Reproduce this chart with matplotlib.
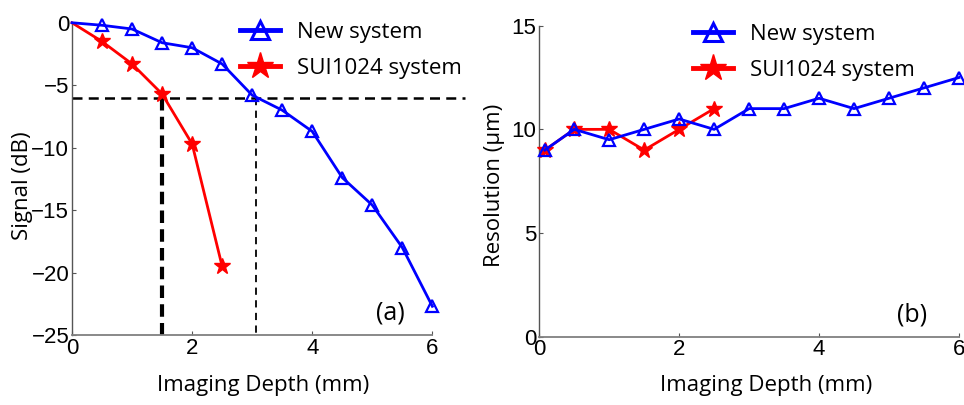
import matplotlib
matplotlib.use("Agg")
import matplotlib.pyplot as plt
from matplotlib.lines import Line2D

# Signal decay versus imaging depth (a)
depth_a = [0, 0.5, 1, 1.5, 2, 2.5, 3, 3.5, 4, 4.5, 5, 5.5, 6]
signal_new = [0, -0.2, -0.5, -1.6, -2.0, -3.3, -5.8, -7.0, -8.7, -12.4, -14.6, -18.0, -22.7]
depth_sui = [0, 0.5, 1, 1.5, 2, 2.5]
signal_sui = [0, -1.5, -3.3, -5.7, -9.7, -19.5]

# Resolution versus imaging depth (b)
depth_b = [0.08, 0.5, 1, 1.5, 2, 2.5, 3, 3.5, 4, 4.5, 5, 5.5, 6]
res_new = [9, 10, 9.5, 10, 10.5, 10, 11, 11, 11.5, 11, 11.5, 12, 12.5]
depth_b_sui = [0.08, 0.5, 1, 1.5, 2, 2.5]
res_sui = [9, 10, 10, 9, 10, 11]

cutoff_db = -6
cut_new = 3.07
cut_sui = 1.5

label_font = "Open Sans"
tick_font = "Liberation Sans"
blue = (0, 0, 1)
red = (1, 0, 0)

fig = plt.figure(figsize=(9.64, 4.05), dpi=100)
ax1 = fig.add_axes([0.0747, 0.1728, 0.3738, 0.771])
ax2 = fig.add_axes([0.5594, 0.1686, 0.4354, 0.768])

tri = dict(color=blue, lw=2, marker="^", ms=9, mfc="none", mec=blue, mew=1.6)
star = dict(color=red, lw=2, marker="*", ms=12, mfc=red, mec=red)

# ---- panel (a)
ax1.plot(depth_a, signal_new, markevery=range(1, len(depth_a)), zorder=4, clip_on=False, **tri)
ax1.plot(depth_sui, signal_sui, markevery=range(1, len(depth_sui)), zorder=3, clip_on=False, **star)
ax1.plot([0, 6.55], [cutoff_db, cutoff_db], "k--", lw=1.8, dashes=(4, 2.5), clip_on=False, zorder=2)
ax1.plot([cut_sui, cut_sui], [cutoff_db, -25], "k--", lw=3, dashes=(3, 1.5), zorder=2)
ax1.plot([cut_new, cut_new], [cutoff_db, -25], "k--", lw=1.3, dashes=(4, 3), zorder=2)
ax1.set_xlim(0, 6)
ax1.set_ylim(-25, 0)
ax1.set_xticks([0, 2, 4, 6])
ax1.set_yticks([0, -5, -10, -15, -20, -25])
ax1.set_xlabel("Imaging Depth (mm)", fontfamily=label_font, fontsize=16)
ax1.set_ylabel("Signal (dB)", fontfamily=label_font, fontsize=16)
ax1.xaxis.set_label_coords(0.531, -0.128)
ax1.yaxis.set_label_coords(-0.108, 0.477)
ax1.text(5.06, -23.2, "(a)", fontfamily=label_font, fontsize=18, va="center")

# ---- panel (b)
ax2.plot(depth_b, res_new, zorder=4, clip_on=False, **tri)
ax2.plot(depth_b_sui, res_sui, zorder=3, clip_on=False, **star)
ax2.set_xlim(0, 6)
ax2.set_ylim(0, 15)
ax2.set_xticks([0, 2, 4, 6])
ax2.set_yticks([0, 5, 10, 15])
ax2.set_xlabel("Imaging Depth (mm)", fontfamily=label_font, fontsize=16)
ax2.set_ylabel("Resolution (\u00b5m)", fontfamily=label_font, fontsize=16)
ax2.xaxis.set_label_coords(0.54, -0.124)
ax2.yaxis.set_label_coords(-0.082, 0.488)
ax2.text(5.12, 1.05, "(b)", fontfamily=label_font, fontsize=18, va="center")

h_new = Line2D([], [], color=blue, lw=3.5, marker="^", ms=13, mfc="none", mec=blue, mew=2.2)
h_sui = Line2D([], [], color=red, lw=3.5, marker="*", ms=20, mfc=red, mec=red)

for ax, anchor in [(ax1, (0.466, 1.003)), (ax2, (0.366, 1.005))]:
    for s in ["top", "right"]:
        ax.spines[s].set_visible(False)
    ax.spines["left"].set_color("#555555")
    ax.spines["bottom"].set_color("#808080")
    ax.spines["left"].set_linewidth(1)
    ax.spines["bottom"].set_linewidth(1.3)
    ax.tick_params(direction="in", length=3, width=0.8, colors="#555555", labelcolor="black",
                   labelsize=16, pad=2)
    for t in ax.get_xticklabels() + ax.get_yticklabels():
        t.set_fontfamily(tick_font)
    ax.legend([h_new, h_sui], ["New system", "SUI1024 system"], loc="upper left",
              bbox_to_anchor=anchor, frameon=False, borderpad=0, borderaxespad=0,
              handlelength=1.8, handletextpad=0.75, labelspacing=0.68,
              prop={"family": label_font, "size": 16})

fig.savefig("out.png", dpi=100)
